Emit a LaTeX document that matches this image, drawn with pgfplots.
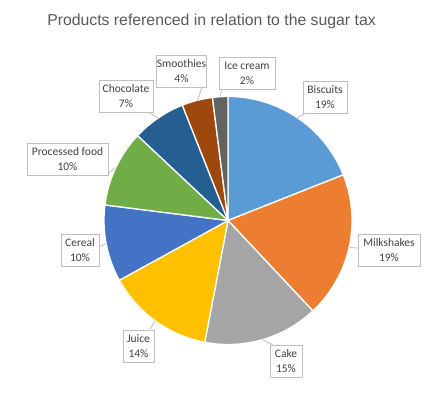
\documentclass[border=0pt]{standalone}
\usepackage{pgfplots}
\pgfplotsset{compat=1.18}
\usepackage{fontspec}
\setmainfont{Carlito}
\newfontfamily\titlefont{Liberation Sans}
\definecolor{cBis}{HTML}{5B9BD5}
\definecolor{cMil}{HTML}{ED7D31}
\definecolor{cCak}{HTML}{A5A5A5}
\definecolor{cJui}{HTML}{FFC000}
\definecolor{cCer}{HTML}{4472C4}
\definecolor{cPro}{HTML}{70AD47}
\definecolor{cCho}{HTML}{255E91}
\definecolor{cSmo}{HTML}{9E480E}
\definecolor{cIce}{HTML}{636363}
\definecolor{titlec}{HTML}{595959}
\definecolor{labc}{HTML}{404040}
\definecolor{boxc}{HTML}{BFBFBF}
% slice: colour, start percent (cumulative), end percent (cumulative)
\newcommand{\slice}[3]{%
  \addplot[fill=#1,draw=white,line width=1.3pt,line join=round,
    domain={90-3.6*(#3)}:{90-3.6*(#2)},samples=80,variable=\t]
    ({228+124*cos(t)},{172.5+124*sin(t)}) -- (228,172.5) -- cycle;}
\begin{document}
\begin{tikzpicture}
\begin{axis}[width=443pt,height=393pt,scale only axis,
  xmin=0,xmax=443,ymin=0,ymax=393,hide axis,clip=false]
\path (0,0) (443,393);
% values: Biscuits 19, Milkshakes 19, Cake 15, Juice 14, Cereal 10,
% Processed food 10, Chocolate 7, Smoothies 4, Ice cream 2
\slice{cBis}{0}{19}
\slice{cMil}{19}{38}
\slice{cCak}{38}{53}
\slice{cJui}{53}{67}
\slice{cCer}{67}{77}
\slice{cPro}{77}{87}
\slice{cCho}{87}{94}
\slice{cSmo}{94}{98}
\slice{cIce}{98}{100}
% leader lines
\draw[boxc,line width=0.8pt] (305,279.5) -- (297.5,275);
\draw[boxc,line width=0.8pt] (358,145) -- (350,145.5);
\draw[boxc,line width=0.8pt] (273,48) -- (262.5,53.5);
\draw[boxc,line width=0.8pt] (150,64) -- (155,72);
\draw[boxc,line width=0.8pt] (99,146) -- (106,149.5);
\draw[boxc,line width=0.8pt] (106,218) -- (115.5,225.5);
\draw[boxc,line width=0.8pt] (150,280) -- (158,275);
\draw[boxc,line width=0.8pt] (202,306) -- (197.5,292.5);
\draw[boxc,line width=0.8pt] (222,305) -- (220,296.5);
\tikzset{lab/.style={draw=boxc,fill=white,line width=0.8pt,text=labc,
  font=\fontsize{11.5}{15}\selectfont,align=center,inner sep=0pt,
  minimum height=32pt}}
\node[lab,minimum width=44pt] at (325,295.5) {Biscuits\\19\%};
\node[lab,minimum width=62pt] at (389,143) {Milkshakes\\19\%};
\node[lab,minimum width=32pt] at (286,31.5) {Cake\\15\%};
\node[lab,minimum width=31pt] at (138.5,47) {Juice\\14\%};
\node[lab,minimum width=38pt] at (80,142.5) {Cereal\\10\%};
\node[lab,minimum width=81pt] at (67.5,233.5) {Processed food\\10\%};
\node[lab,minimum width=54pt] at (126,296.5) {Chocolate\\7\%};
\node[lab,minimum width=50pt] at (181.5,321.5) {Smoothies\\4\%};
\node[lab,minimum width=56pt] at (247,320) {Ice cream\\2\%};
\node[font=\titlefont\fontsize{15.8}{18}\selectfont,text=titlec] at (211.5,372) {Products referenced in relation to the sugar tax};
\end{axis}
\end{tikzpicture}
\end{document}
